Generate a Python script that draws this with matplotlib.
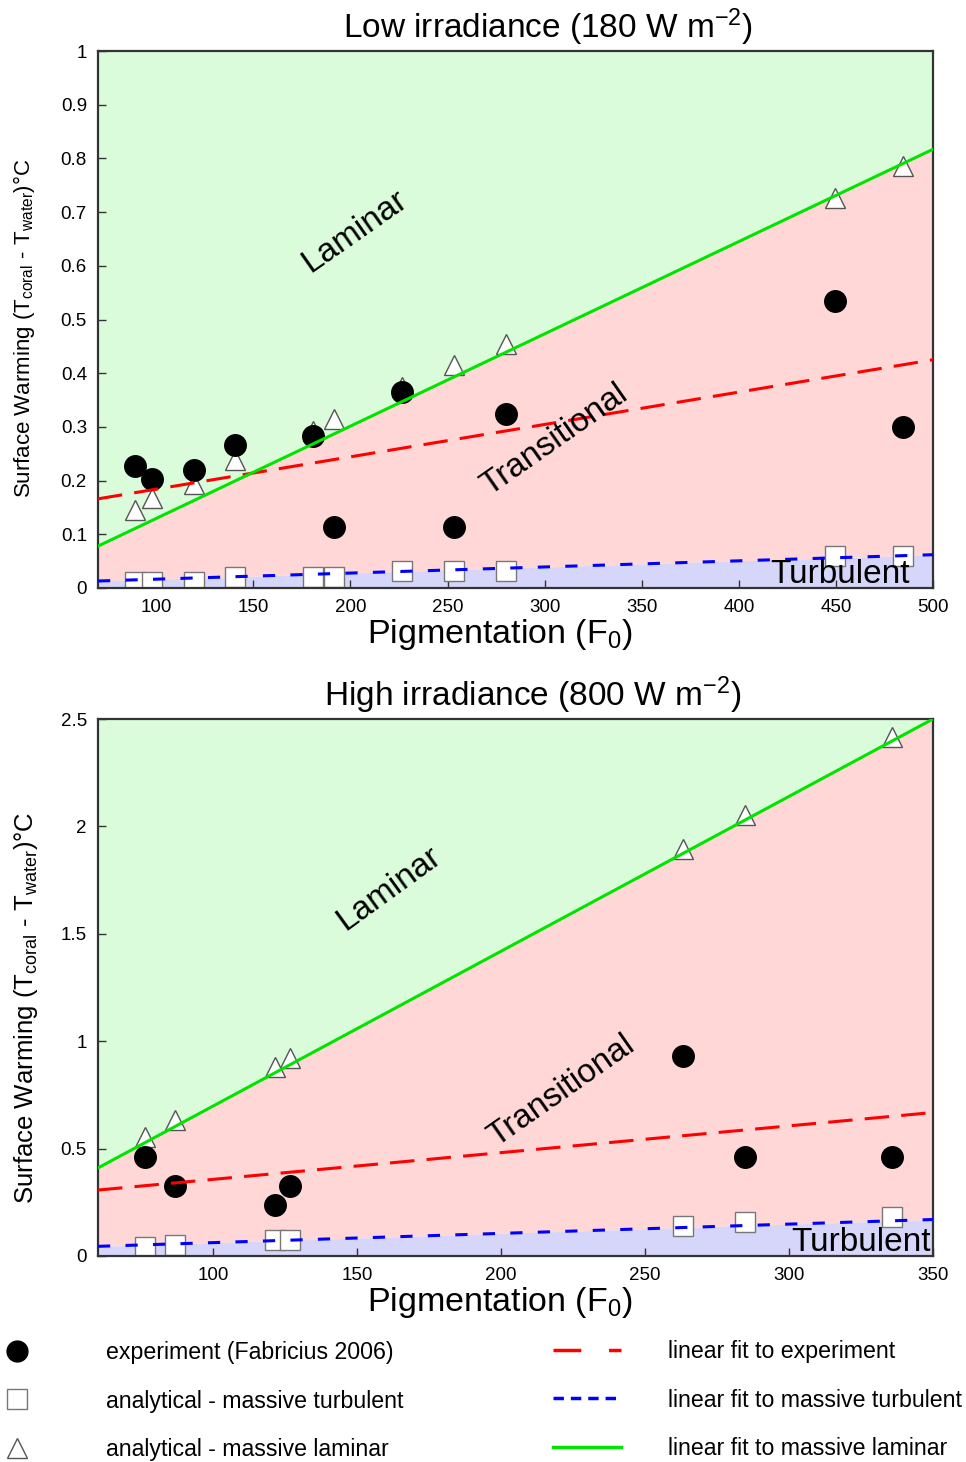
import matplotlib
matplotlib.use("Agg")
import matplotlib.pyplot as plt
import numpy as np
from matplotlib.lines import Line2D
from matplotlib.ticker import FuncFormatter

plt.rcParams['font.family'] = ['Liberation Sans', 'DejaVu Sans']
plt.rcParams['mathtext.fontset'] = 'custom'
plt.rcParams['mathtext.rm'] = 'Liberation Sans'

# ---- low irradiance (180 W m-2) ----
low_pig = [89.3, 97.6, 119.2, 140.4, 180.6, 191.4, 226.4, 253.2, 280.0, 449.6, 484.7]
low_exp = [0.227, 0.203, 0.220, 0.266, 0.283, 0.114, 0.365, 0.114, 0.324, 0.534, 0.300]
low_lam = [0.145, 0.168, 0.194, 0.238, 0.292, 0.315, 0.374, 0.415, 0.454, 0.726, 0.786]
low_turb = [0.011, 0.011, 0.011, 0.020, 0.020, 0.020, 0.032, 0.032, 0.032, 0.060, 0.060]
low_fit_x = [70, 500]
low_fit_exp = [0.166, 0.425]
low_fit_turb = [0.013, 0.062]
low_fit_lam = [0.078, 0.817]

# ---- high irradiance (800 W m-2) ----
high_pig = [76.2, 86.6, 121.4, 126.6, 263.2, 284.8, 335.6]
high_exp = [0.461, 0.326, 0.237, 0.326, 0.931, 0.461, 0.461]
high_lam = [0.554, 0.633, 0.880, 0.922, 1.895, 2.053, 2.416]
high_turb = [0.042, 0.050, 0.075, 0.075, 0.140, 0.158, 0.180]
high_fit_x = [60, 350]
high_fit_exp = [0.307, 0.668]
high_fit_turb = [0.045, 0.170]
high_fit_lam = [0.410, 2.500]

c_green_bg = '#dafcda'
c_pink_bg = '#ffd7d7'
c_blue_bg = '#d6d6fa'
c_red = '#ff0000'
c_blue = '#0000ff'
c_green = '#00e400'

red_dash = (0, (8, 4))
blue_dash = (0, (4, 5))

W, H = 966, 1462
fig = plt.figure(figsize=(W / 100, H / 100), dpi=100)


def panel(rect, pig, exp, lam, turb, fx, fexp, fturb, flam, xlim, ylim,
          xticks, yticks, title, title_x, ylab_size, ylab_xy, labels):
    ax = fig.add_axes(rect)
    fx = np.array(fx, dtype=float)
    # regions
    ax.fill_between(fx, flam, ylim[1], color=c_green_bg, lw=0, zorder=0)
    ax.fill_between(fx, fturb, flam, color=c_pink_bg, lw=0, zorder=0)
    ax.fill_between(fx, 0, fturb, color=c_blue_bg, lw=0, zorder=0)

    ax.plot(pig, lam, ls='none', marker='^', ms=15, mfc='white', mec='#555555', mew=1, zorder=2)
    ax.plot(pig, turb, ls='none', marker='s', ms=15, mfc='white', mec='#777777', mew=1, zorder=2)
    ax.plot(pig, exp, ls='none', marker='o', ms=15.5, mfc='black', mec='black', zorder=2.5)

    ax.plot(fx, fexp, color=c_red, lw=2.2, ls=red_dash, zorder=3)
    ax.plot(fx, fturb, color=c_blue, lw=2.2, ls=blue_dash, zorder=3)
    ax.plot(fx, flam, color=c_green, lw=2.2, zorder=3)

    ax.set_xlim(xlim)
    ax.set_ylim(ylim)
    ax.set_xticks(xticks)
    ax.set_yticks(yticks)
    ax.yaxis.set_major_formatter(FuncFormatter(lambda v, p: '%g' % v))
    ax.tick_params(direction='in', length=6, width=1, top=False, right=False,
                   labelsize=13.5, color='#333333')
    ax.tick_params(axis='x', pad=8)
    ax.tick_params(axis='y', pad=8)
    for s in ax.spines.values():
        s.set_color('#333333')
        s.set_linewidth(1.6)
    ax.set_title(title, fontsize=24, pad=9, x=title_x)
    ax.set_xlabel(r'Pigmentation (F$\mathregular{_0}$)', fontsize=24.5, labelpad=1, x=0.481)
    ax.set_ylabel(r'Surface Warming (T$\mathregular{_{coral}}$ - T$\mathregular{_{water}}$)°C',
                  fontsize=ylab_size)
    ax.yaxis.set_label_coords(*ylab_xy)
    for (tx, ty, txt, rot) in labels:
        ax.text(tx, ty, txt, fontsize=24, rotation=rot, ha='center', va='center',
                rotation_mode='anchor', zorder=4)
    return ax


panel([98 / W, 1 - 588 / H, 835 / W, 537 / H],
      low_pig, low_exp, low_lam, low_turb,
      low_fit_x, low_fit_exp, low_fit_turb, low_fit_lam,
      (70, 500), (0, 1), np.arange(100, 501, 50), np.arange(0, 1.01, 0.1),
      r'Low irradiance (180 W m$\mathregular{^{-2}}$)', 0.539, 16, (-0.073, 0.484),
      [(202, 0.663, 'Laminar', 35), (305, 0.276, 'Transitional', 35),
       (452, 0.026, 'Turbulent', 0)])

panel([98 / W, 1 - 1256 / H, 835 / W, 537 / H],
      high_pig, high_exp, high_lam, high_turb,
      high_fit_x, high_fit_exp, high_fit_turb, high_fit_lam,
      (60, 350), (0, 2.5), np.arange(100, 351, 50), np.arange(0, 2.51, 0.5),
      r'High irradiance (800 W m$\mathregular{^{-2}}$)', 0.521, 18.5, (-0.07, 0.462),
      [(161, 1.71, 'Laminar', 36), (221, 0.77, 'Transitional', 35),
       (325, 0.063, 'Turbulent', 0)])

# legend
mk_handles = [
    Line2D([], [], ls='none', marker='o', ms=15, mfc='black', mec='black'),
    Line2D([], [], ls='none', marker='s', ms=15, mfc='white', mec='#777777'),
    Line2D([], [], ls='none', marker='^', ms=15, mfc='white', mec='#555555'),
]
mk_labels = ['experiment (Fabricius 2006)', 'analytical - massive turbulent',
             'analytical - massive laminar']
ln_handles = [
    Line2D([], [], color=c_red, lw=2.5, ls=(0, (8, 8))),
    Line2D([], [], color=c_blue, lw=2.5, ls=(0, (3, 2))),
    Line2D([], [], color=c_green, lw=2.5),
]
ln_labels = ['linear fit to experiment', 'linear fit to massive turbulent',
             'linear fit to massive laminar']

fig.legend(mk_handles, mk_labels, loc='upper left', bbox_to_anchor=(0.0, 1 - 1341 / H),
           frameon=False, fontsize=16.7, handlelength=1.5, handletextpad=3.05,
           labelspacing=1.1, borderpad=0, borderaxespad=0)
fig.legend(ln_handles, ln_labels, loc='upper left', bbox_to_anchor=(553 / W, 1 - 1340 / H),
           frameon=False, fontsize=16.7, handlelength=2.95, handletextpad=2.0,
           labelspacing=1.1, borderpad=0, borderaxespad=0)

fig.savefig('out.png', dpi=100)
